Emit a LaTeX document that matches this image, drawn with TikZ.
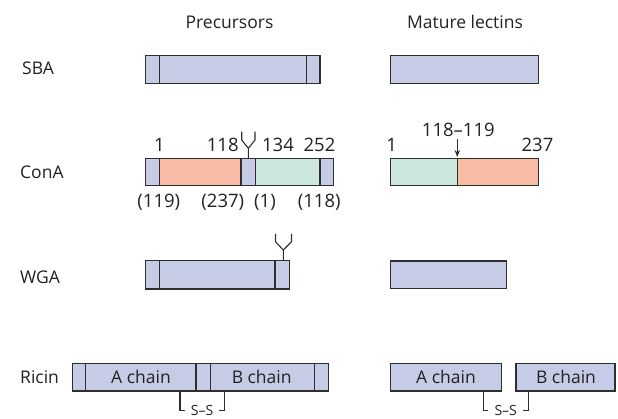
\documentclass[tikz,border=0pt]{standalone}
\usepackage{fontspec}
\setmainfont{Open Sans}
\usetikzlibrary{arrows.meta}
\definecolor{lav}{HTML}{C6CBE6}
\definecolor{salm}{HTML}{F8BBA6}
\definecolor{mint}{HTML}{CCE7DD}
\definecolor{edgec}{HTML}{2E2E2E}
\definecolor{txt}{HTML}{222222}
\begin{document}
\begin{tikzpicture}[x=1pt,y=-1pt,
  seg/.style={draw=edgec, line width=1.4pt},
  thin/.style={draw=edgec, line width=1.1pt},
  lbl/.style={font=\fontsize{17.5}{20}\selectfont, text=txt, inner sep=0pt, anchor=base},
  numlbl/.style={lbl, font=\fontsize{18.5}{21}\selectfont},
  sslbl/.style={lbl, font=\fontsize{14}{16}\selectfont},
  rowlbl/.style={lbl, anchor=base west}]
\useasboundingbox (0,0) rectangle (618,419);

% headers
\node[lbl] (hpre) at (229.5,29) {Precursors};
\node[lbl] (hmat) at (465,29) {Mature lectins};

% row labels
\node[rowlbl] (lsba) at (22,75) {SBA};
\node[rowlbl] (lcona) at (20,178.3) {ConA};
\node[rowlbl] (lwga) at (20,283.5) {WGA};
\node[rowlbl] (lric) at (20,383.3) {Ricin};

% ---------- SBA ----------
\filldraw[fill=lav, seg] (145.7,55.7) rectangle (320,83.3);
\draw[seg] (159.3,55.7) -- (159.3,83.3) (306.7,55.7) -- (306.7,83.3);
\filldraw[fill=lav, seg] (390.7,55.7) rectangle (538.3,83.3);

% ---------- ConA precursor ----------
\fill[lav] (145.7,158.3) rectangle (333.3,185.7);
\fill[salm] (159.3,158.3) rectangle (241,185.7);
\fill[mint] (255.7,158.3) rectangle (320,185.7);
\draw[seg] (145.7,158.3) rectangle (333.3,185.7);
\draw[seg] (159.3,158.3) -- (159.3,185.7) (241,158.3) -- (241,185.7)
           (255.7,158.3) -- (255.7,185.7) (320,158.3) -- (320,185.7);
% glycan
\draw[thin, line join=miter] (241.7,131.7) -- (241.7,140) -- (248.3,148.3) -- (255,140) -- (255,131.7)
      (248.3,148.3) -- (248.3,158.3);
\node[numlbl] (c1) at (159.3,151.7) {1};
\node[numlbl] (c118) at (222.7,151.7) {118};
\node[numlbl] (c134) at (278,151.7) {134};
\node[numlbl] (c252) at (319.5,151.7) {252};
\node[numlbl] (d119) at (158.8,207.5) {(119)};
\node[numlbl] (d237) at (222.8,207.5) {(237)};
\node[numlbl] (d1) at (265,207.5) {(1)};
\node[numlbl] (d118) at (319.2,207.5) {(118)};

% ---------- ConA mature ----------
\fill[mint] (390.7,158.3) rectangle (457.3,185.7);
\fill[salm] (457.3,158.3) rectangle (538.3,185.7);
\draw[seg] (390.7,158.3) rectangle (538.3,185.7);
\draw[seg] (457.3,158.3) -- (457.3,185.7);
\node[numlbl] (m1) at (391.7,151.7) {1};
\node[numlbl] (m237) at (537.5,151.7) {237};
\node[numlbl] (mcut) at (458.3,136.7) {118--119};
\coordinate (cutpt) at (457.3,157);
\draw[line width=1.1pt, draw=edgec, -{Stealth[length=7pt,width=5.5pt]}] (457.3,139) -- (cutpt);

% ---------- WGA ----------
\filldraw[fill=lav, seg] (145.7,260.7) rectangle (289.3,289);
\draw[seg] (159.3,260.7) -- (159.3,289) (275,260.7) -- (275,289);
\draw[thin, line join=miter] (275.5,234) -- (275.5,241.7) -- (283.3,250) -- (291.5,241.7) -- (291.5,234)
      (283.3,250) -- (283.3,260.7);
\filldraw[fill=lav, seg] (390.7,261) rectangle (506.7,288.5);

% ---------- Ricin precursor ----------
\filldraw[fill=lav, seg] (72.3,363.3) rectangle (328.3,391);
\draw[seg] (85.7,363.3) -- (85.7,391) (196,363.3) -- (196,391)
           (210.7,363.3) -- (210.7,391) (314.3,363.3) -- (314.3,391);
\node[lbl] (pa) at (141,383.3) {A chain};
\node[lbl] (pb) at (261.7,383.3) {B chain};
\node[sslbl] (pss) at (202,415.5) {S--S};
\coordinate (pl) at (180,391);
\coordinate (pr) at (224.3,391);
\draw[thin] (pl) -- (180,410.5) -- (185,410.5);
\draw[thin] (pr) -- (224.3,410.5) -- (219.3,410.5);

% ---------- Ricin mature ----------
\filldraw[fill=lav, seg] (390.7,363.3) rectangle (501.7,391);
\filldraw[fill=lav, seg] (516,363.3) rectangle (615,391);
\node[lbl] (ma) at (446,383.3) {A chain};
\node[lbl] (mb) at (566,383.3) {B chain};
\node[sslbl] (mss) at (505.7,415.5) {S--S};
\coordinate (ml) at (483.3,391);
\coordinate (mr) at (528.3,391);
\draw[thin] (ml) -- (483.3,410.5) -- (488.3,410.5);
\draw[thin] (mr) -- (528.3,410.5) -- (523.3,410.5);
\end{tikzpicture}
\end{document}
